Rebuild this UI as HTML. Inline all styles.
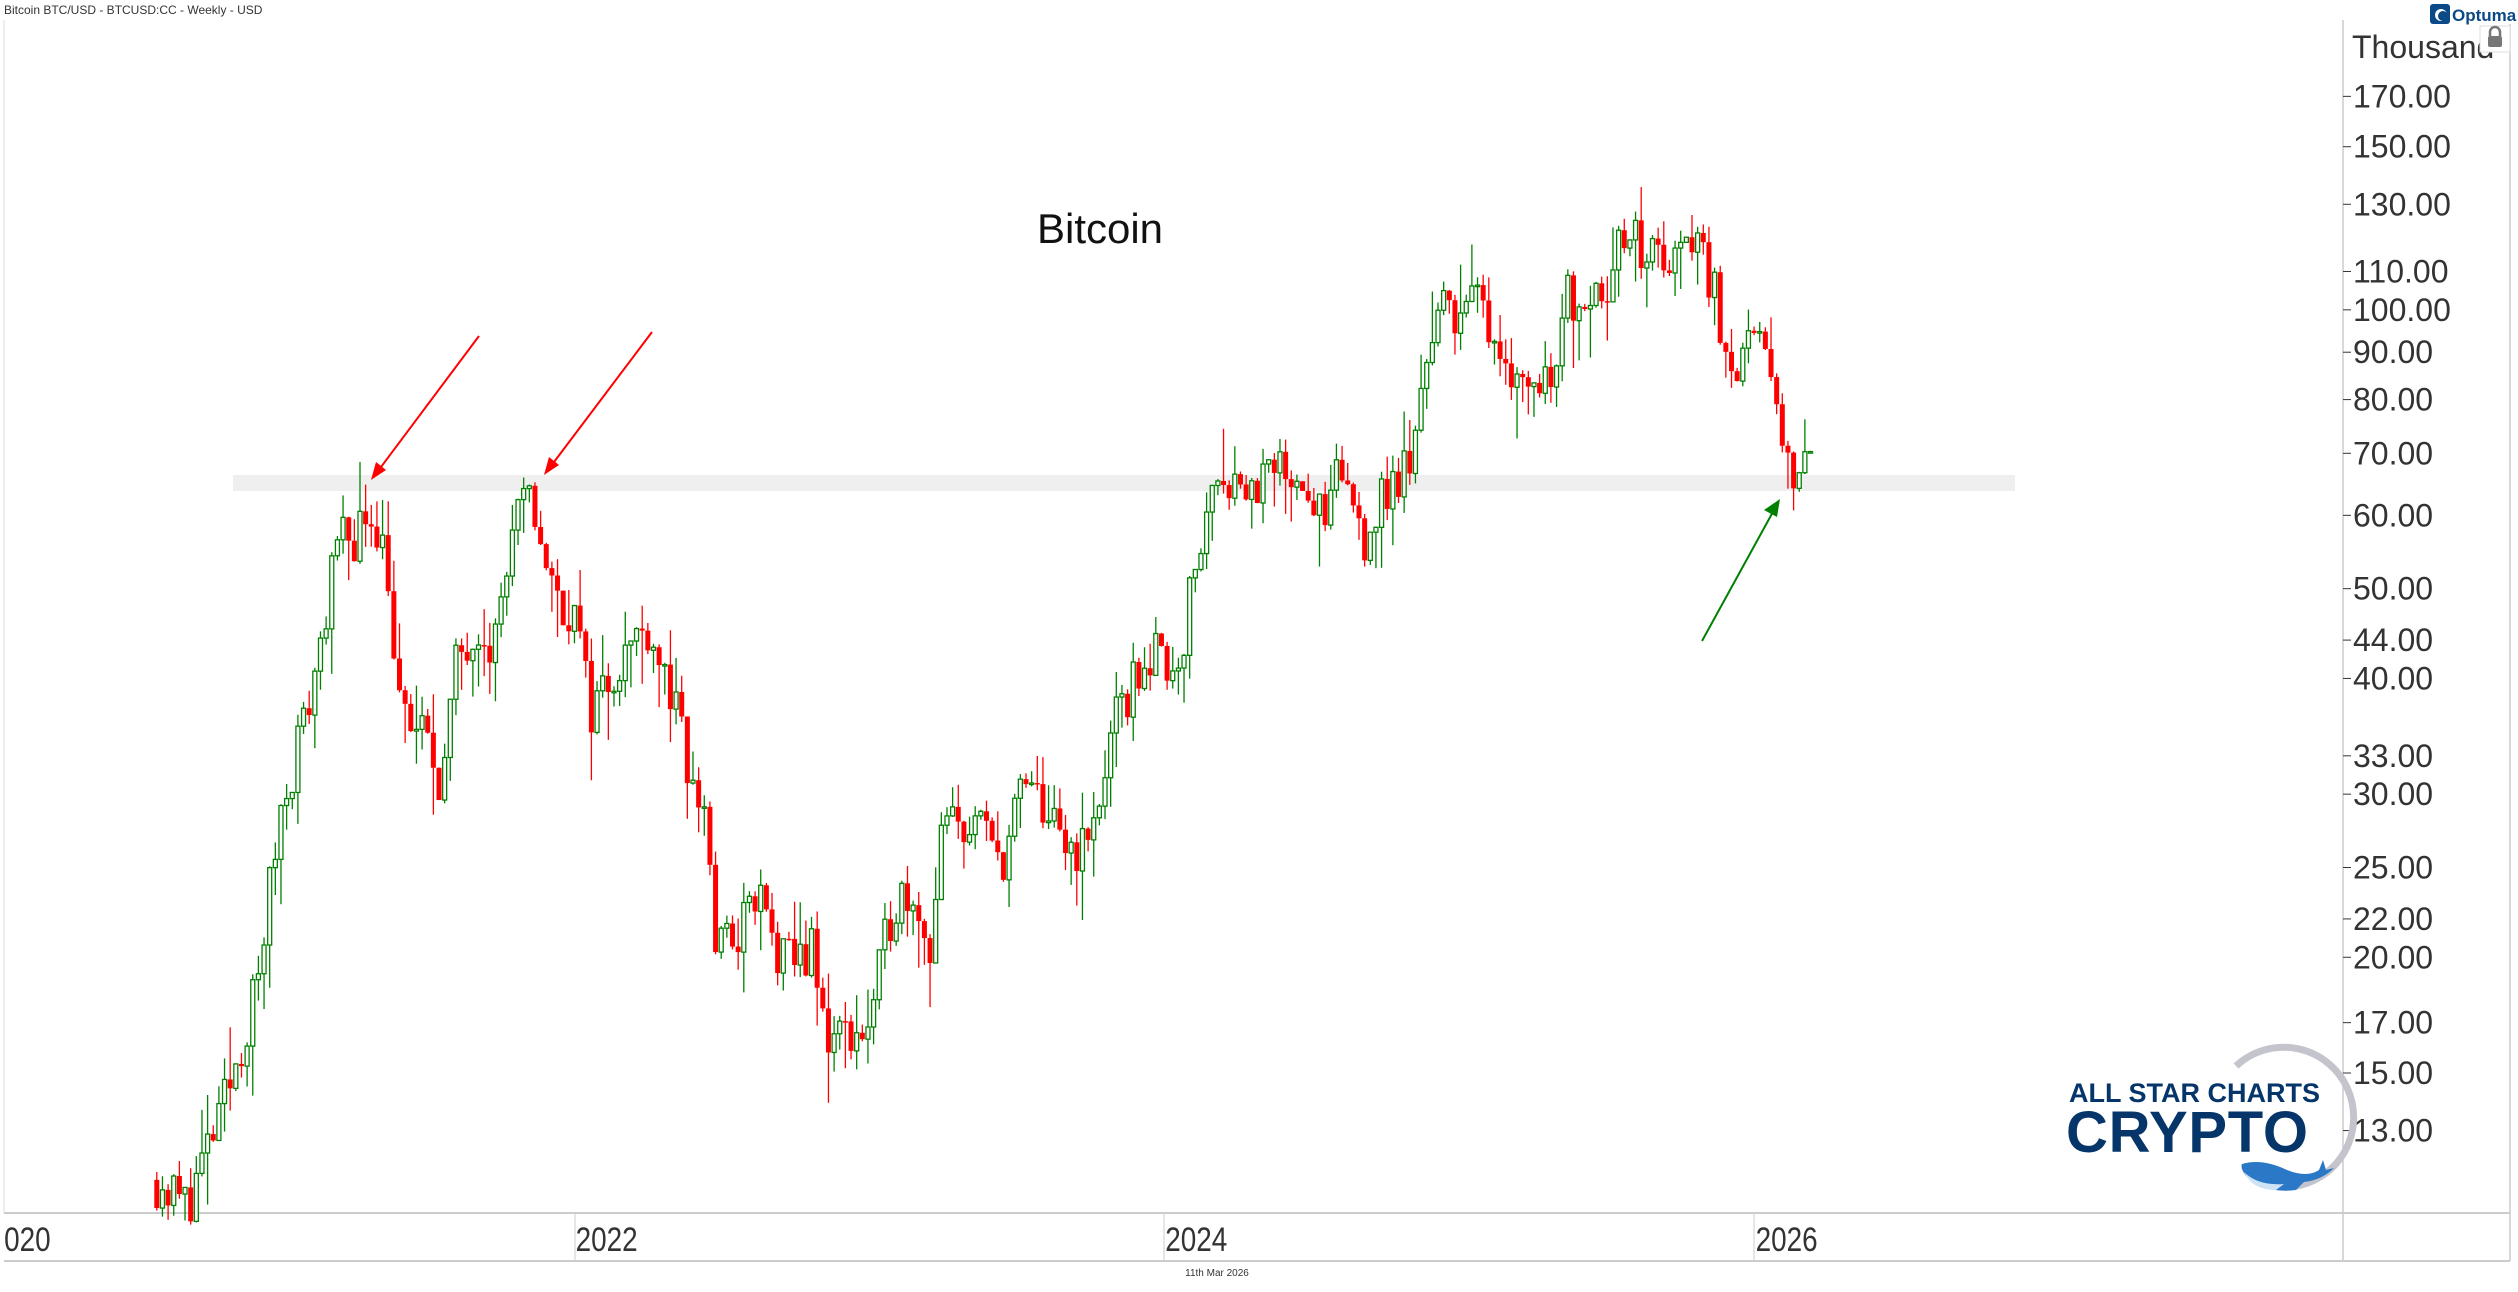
<!DOCTYPE html>
<html><head><meta charset="utf-8"><style>
html,body{margin:0;padding:0;background:#fff;width:2518px;height:1292px;overflow:hidden}
svg{display:block}
text{font-family:"Liberation Sans",sans-serif}
</style></head><body>
<svg id="s" width="2518" height="1292" xmlns="http://www.w3.org/2000/svg">
<rect width="2518" height="1292" fill="#fff"/>
<text x="4" y="14" font-size="12" fill="#333">Bitcoin BTC/USD - BTCUSD:CC - Weekly - USD</text>
<line x1="4" y1="20" x2="4" y2="1213" stroke="#ddd"/>
<line x1="2343" y1="20" x2="2343" y2="1261" stroke="#ccc" stroke-width="1.5"/>
<line x1="2510" y1="24" x2="2510" y2="1261" stroke="#ccc" stroke-width="1.5"/>
<line x1="4" y1="1213" x2="2510" y2="1213" stroke="#ccc" stroke-width="2"/>
<line x1="4" y1="1261" x2="2510" y2="1261" stroke="#ccc" stroke-width="2"/>
<g stroke="#ccc"><line x1="575" y1="1213" x2="575" y2="1261"/><line x1="1164" y1="1213" x2="1164" y2="1261"/><line x1="1754" y1="1213" x2="1754" y2="1261"/></g>
<g font-size="34" fill="#333" transform="scale(0.82,1)">
<text x="5" y="1251">020</text><text x="702" y="1251">2022</text><text x="1421" y="1251">2024</text><text x="2141" y="1251">2026</text>
</g>
<text x="1217" y="1276" font-size="10" fill="#333" text-anchor="middle">11th Mar 2026</text>
<rect x="233" y="475" width="1782" height="16" fill="#efefef"/>
<g id="c"></g>
<text x="1100" y="243" font-size="42" fill="#111" text-anchor="middle">Bitcoin</text>
<g id="ax" font-size="32" fill="#333"></g>
<text x="2352" y="58" font-size="32" fill="#333">Thousand</text>
<rect x="2480" y="26" width="30" height="26" fill="#fff" stroke="#ddd"/>
<rect x="2488" y="36" width="14" height="11" rx="2" fill="#777"/>
<path d="M2490 36 v-4 a5 5 0 0 1 10 0 v4" fill="none" stroke="#777" stroke-width="2.5"/>
<rect x="2430" y="4" width="20" height="20" rx="3" fill="#0b4a86"/>
<circle cx="2441" cy="15" r="6" fill="#fff"/><circle cx="2443" cy="16" r="5" fill="#0b4a86"/>
<text x="2452" y="21" font-size="17" font-weight="bold" fill="#0b4a86">Optuma</text>
<g stroke-width="2">
<line x1="479" y1="336" x2="378" y2="471" stroke="#f00"/>
<polygon points="371,480 376,462 386,470" fill="#f00"/>
<line x1="652" y1="332" x2="551" y2="466" stroke="#f00"/>
<polygon points="544,475 549,457 559,465" fill="#f00"/>
<line x1="1702" y1="641" x2="1774" y2="510" stroke="#008000"/>
<polygon points="1780,499 1764,510 1777,517" fill="#008000"/>
</g>
<path d="M2236 1066 A70 70 0 1 1 2290 1187" fill="none" stroke="#c4c4cc" stroke-width="7"/>
<text x="2069" y="1102" font-size="27" font-weight="bold" fill="#06356a">ALL STAR CHARTS</text>
<text x="2066" y="1152" font-size="58" font-weight="bold" fill="#06356a" textLength="242">CRYPTO</text>
<path d="M2242 1164 q20 -6 45 6 q20 8 32 0 l4 -10 l3 10 l8 -2 q-12 12 -30 14 l-8 8 q-30 4 -50 -14 q-6 -8 -4 -12z" fill="#2a78c6"/>
<path d="M2244 1172 q14 14 40 12 l-8 6 q-24 0 -32 -18z" fill="#cfe3f7"/>
</svg>
<script>
const NS="http://www.w3.org/2000/svg";
function Y(p){return 96.4+(2.2304-Math.log10(p))*926.3;}
function X(t){return 575+(t-2022)*294.5;}
const ax=document.getElementById('ax');
[170,150,130,110,100,90,80,70,60,50,44,40,33,30,25,22,20,17,15,13].forEach(v=>{
 const y=Y(v);
 const l=document.createElementNS(NS,'line');l.setAttribute('x1',2343);l.setAttribute('x2',2351);l.setAttribute('y1',y);l.setAttribute('y2',y);l.setAttribute('stroke','#333');ax.appendChild(l);
 const t=document.createElementNS(NS,'text');t.setAttribute('x',2353);t.setAttribute('y',y+11);t.textContent=v.toFixed(2);ax.appendChild(t);
});
const K=[[2020.58,11.5],[2020.68,10.8],[2020.80,13.5],[2020.92,18.5],[2021.0,29],[2021.1,38],[2021.15,47],[2021.2,56],[2021.28,58],[2021.3,62],[2021.36,55],[2021.40,37],[2021.5,34],[2021.55,31],[2021.6,42],[2021.68,47],[2021.72,43],[2021.78,55],[2021.83,62],[2021.86,61],[2021.93,49],[2022.0,47],[2022.05,37],[2022.15,42],[2022.25,46],[2022.33,38],[2022.40,30],[2022.45,29],[2022.47,20.5],[2022.55,21],[2022.62,23.5],[2022.7,19.5],[2022.8,20.5],[2022.85,16.5],[2023.0,16.7],[2023.08,23],[2023.15,24],[2023.2,20],[2023.25,27.5],[2023.35,28],[2023.45,25.5],[2023.52,30.5],[2023.6,29],[2023.65,26],[2023.75,26.5],[2023.82,34.5],[2023.93,42],[2024.05,42],[2024.1,51],[2024.18,68],[2024.3,64],[2024.45,68],[2024.55,58],[2024.6,67],[2024.68,57],[2024.75,63],[2024.85,69],[2024.88,90],[2024.95,100],[2025.05,102],[2025.12,96],[2025.2,84],[2025.3,84],[2025.37,103],[2025.5,108],[2025.55,118],[2025.65,115],[2025.75,112],[2025.8,123],[2025.85,110],[2025.9,95],[2025.95,87],[2026.0,90],[2026.05,88],[2026.08,77],[2026.1,68],[2026.2,69]];
let seed=11;function r(){seed=(seed*16807)%2147483647;return seed/2147483647;}
function interp(t){for(let i=0;i<K.length-1;i++){if(t<=K[i+1][0]){const a=K[i],b=K[i+1];const f=(t-a[0])/(b[0]-a[0]);return Math.exp(Math.log(a[1])+f*(Math.log(b[1])-Math.log(a[1])));}}return K[K.length-1][1];}
const g=document.getElementById('c');let html='';
let prev=interp(2020.58);
for(let t=2020.58;t<=2026.2;t+=7/365.25){
 const base=interp(t);
 const c=base*Math.exp((r()-0.5)*0.14);
 const o=prev;
 const hi=Math.max(o,c)*Math.exp(r()*r()*0.14);
 const lo=Math.min(o,c)*Math.exp(-r()*r()*0.16);
 const x=X(t);const up=c>=o;const col=up?'#008000':'#f00';
 html+=`<line x1="${x}" x2="${x}" y1="${Y(hi)}" y2="${Y(lo)}" stroke="${col}" stroke-width="1.3"/>`;
 const yt=Y(Math.max(o,c)),yb=Y(Math.min(o,c));const h=Math.max(1.5,yb-yt);
 if(up)html+=`<rect x="${x-2}" y="${yt}" width="4" height="${h}" fill="#fff" stroke="${col}" stroke-width="1.3"/>`;
 else html+=`<rect x="${x-2.5}" y="${yt}" width="5" height="${h}" fill="${col}"/>`;
 prev=c;
}
g.innerHTML=html;
</script>
</body></html>
